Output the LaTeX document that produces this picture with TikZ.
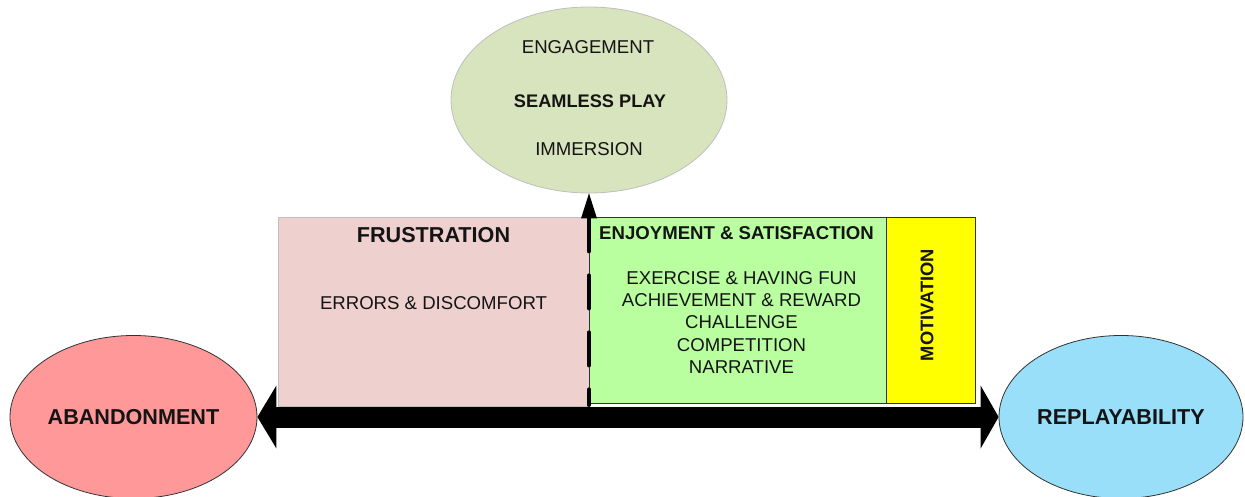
\documentclass[tikz,border=0pt]{standalone}
\usepackage{fontspec}
\setmainfont{Liberation Sans}
\usetikzlibrary{shapes.geometric,arrows.meta}
\definecolor{pinkfill}{RGB}{238,208,206}
\definecolor{pinkline}{RGB}{190,190,190}
\definecolor{greenfill}{RGB}{185,255,160}
\definecolor{yellowfill}{RGB}{255,255,0}
\definecolor{abfill}{RGB}{255,153,153}
\definecolor{repfill}{RGB}{153,223,249}
\definecolor{topfill}{RGB}{216,228,189}
\definecolor{topline}{RGB}{190,190,190}
\definecolor{darkline}{RGB}{50,50,50}
\definecolor{txt}{RGB}{20,20,20}
\tikzset{
  boxshape/.style={rectangle, inner sep=0pt, line width=0.8pt},
  ellshape/.style={ellipse, inner sep=0pt, line width=0.8pt},
  regtext/.style={inner sep=0pt, text=txt, font=\fontsize{18.6}{22.3}\selectfont, align=center},
  boldtext/.style={inner sep=0pt, text=txt, font=\bfseries\fontsize{18.6}{22.3}\selectfont, align=center},
  bigbold/.style={inner sep=0pt, text=txt, font=\bfseries\fontsize{21.6}{26}\selectfont},
}
\begin{document}
\begin{tikzpicture}[x=1pt,y=-1pt]
\useasboundingbox (0,0) rectangle (1245,497);
% boxes
\node[boxshape, fill=pinkfill, draw=pinkline, minimum width=311pt, minimum height=189pt] (frus) at (433.5,311.5) {};
\node[boxshape, fill=greenfill, draw=darkline, minimum width=297pt, minimum height=186pt] (enj) at (737.5,310) {};
\node[boxshape, fill=yellowfill, draw=darkline, minimum width=89pt, minimum height=186pt] (mot) at (930.5,310) {};
% ellipses
\node[ellshape, fill=topfill, draw=topline, minimum width=276pt, minimum height=186pt] (top) at (589,100) {};
\node[ellshape, fill=abfill, draw=darkline, minimum width=247pt, minimum height=163pt] (aband) at (133.5,417) {};
\node[ellshape, fill=repfill, draw=darkline, minimum width=244pt, minimum height=163pt] (repl) at (1121,417) {};
% texts
\node[regtext] (eng) at (588,47) {ENGAGEMENT};
\node[boldtext, font=\bfseries\fontsize{18.2}{22}\selectfont] (seam) at (590,101) {SEAMLESS PLAY};
\node[regtext] (imm) at (589,149) {IMMERSION};
\node[bigbold] (frust) at (433.5,235) {FRUSTRATION};
\node[regtext] (err) at (433.5,303) {ERRORS \& DISCOMFORT};
\node[boldtext] (enjt) at (736.5,233) {ENJOYMENT \& SATISFACTION};
\node[regtext] (list) at (741.5,322.5) {EXERCISE \& HAVING FUN\\ACHIEVEMENT \& REWARD\\CHALLENGE\\COMPETITION\\NARRATIVE};
\node[boldtext, rotate=90, font=\bfseries\fontsize{18.3}{22}\selectfont] (mott) at (927,305) {MOTIVATION};
\node[bigbold] (abt) at (aband) {ABANDONMENT};
\node[bigbold] (rept) at (repl) {REPLAYABILITY};
% connectors
\coordinate (vbot) at (589,405);
\draw[line width=21pt, {Triangle[length=19pt,width=63pt,line width=0pt]}-{Triangle[length=18pt,width=63pt,line width=0pt]}] (aband.east) -- (repl.west);
\draw[line width=4pt, line cap=round, dash pattern=on 33pt off 24pt, {Triangle[length=25pt,width=16pt,line width=0pt]}-] (top.south) -- (vbot);
\end{tikzpicture}
\end{document}
